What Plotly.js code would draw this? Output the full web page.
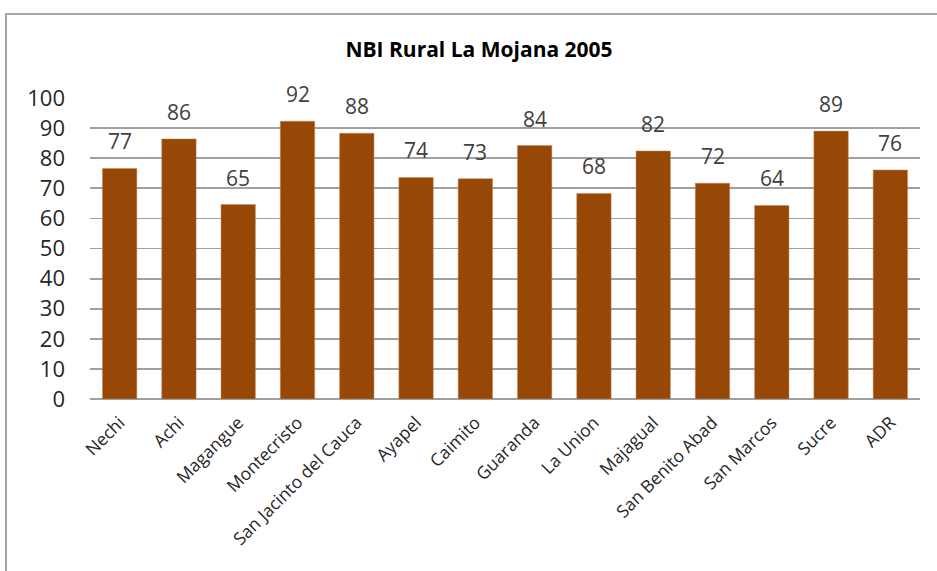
<!DOCTYPE html>
<html>
<head>
<meta charset="utf-8">
<script src="https://cdn.plot.ly/plotly-3.0.1.min.js"></script>
<style>
  html, body { margin: 0; padding: 0; background: #fff; }
  #frame { position: absolute; left: 5px; top: 13px; width: 932px; height: 558px;
           border-left: 2px solid #a6a6a6; border-top: 2px solid #a6a6a6; }
  #chart { position: absolute; left: 0; top: 0; width: 937px; height: 571px; }
</style>
</head>
<body>
<div id="frame"></div>
<div id="chart"></div>
<script>
const categories = ["Nechi", "Achi", "Magangue", "Montecristo", "San Jacinto del Cauca", "Ayapel",
  "Caimito", "Guaranda", "La Union", "Majagual", "San Benito Abad", "San Marcos", "Sucre", "ADR"];
const values = [76.6, 86.4, 64.6, 92.3, 88.3, 73.6, 73.2, 84.2, 68.3, 82.4, 71.7, 64.3, 89.0, 76.1];
const yTicks = [0, 10, 20, 30, 40, 50, 60, 70, 80, 90, 100];

const trace = {
  type: 'bar',
  x: categories,
  y: values,
  marker: { color: '#974806', line: { color: '#c28a5c', width: 0.5 } },
  hoverinfo: 'none'
};

const labels = categories.map((c, i) => ({
  x: c, y: values[i], xref: 'x', yref: 'y',
  text: String(Math.round(values[i])),
  showarrow: false, yanchor: 'bottom', yshift: 11,
  font: { family: 'Open Sans, sans-serif', size: 21, color: '#404040' }
}));

const layout = {
  width: 937, height: 571,
  margin: { l: 90, r: 17, t: 98, b: 172 },
  paper_bgcolor: 'rgba(0,0,0,0)',
  plot_bgcolor: 'rgba(0,0,0,0)',
  showlegend: false,
  bargap: 0.42,
  annotations: labels,
  title: {
    text: '<b>NBI Rural La Mojana 2005</b>',
    x: 479 / 937, xref: 'container', xanchor: 'center',
    y: 1 - 50 / 571, yref: 'container', yanchor: 'middle',
    font: { family: 'Open Sans, sans-serif', size: 21, color: '#000' }
  },
  xaxis: {
    type: 'category',
    tickangle: -45,
    tickfont: { family: 'Open Sans, sans-serif', size: 17.5, color: '#262626' },
    showgrid: false,
    showline: false,
    ticks: '',
    ticklabelstandoff: 9,
    automargin: false
  },
  yaxis: {
    range: [0, 100],
    tickvals: yTicks,
    ticktext: yTicks.map(String),
    tickfont: { family: 'Open Sans, sans-serif', size: 22, color: '#262626' },
    showgrid: true,
    gridcolor: '#a0a0a0',
    gridwidth: 1.8,
    zeroline: true,
    zerolinecolor: '#a0a0a0',
    zerolinewidth: 1.8,
    ticks: '',
    ticklabelstandoff: 24,
    automargin: false
  }
};

Plotly.newPlot('chart', [trace], layout, { staticPlot: true, displayModeBar: false });
</script>
</body>
</html>
